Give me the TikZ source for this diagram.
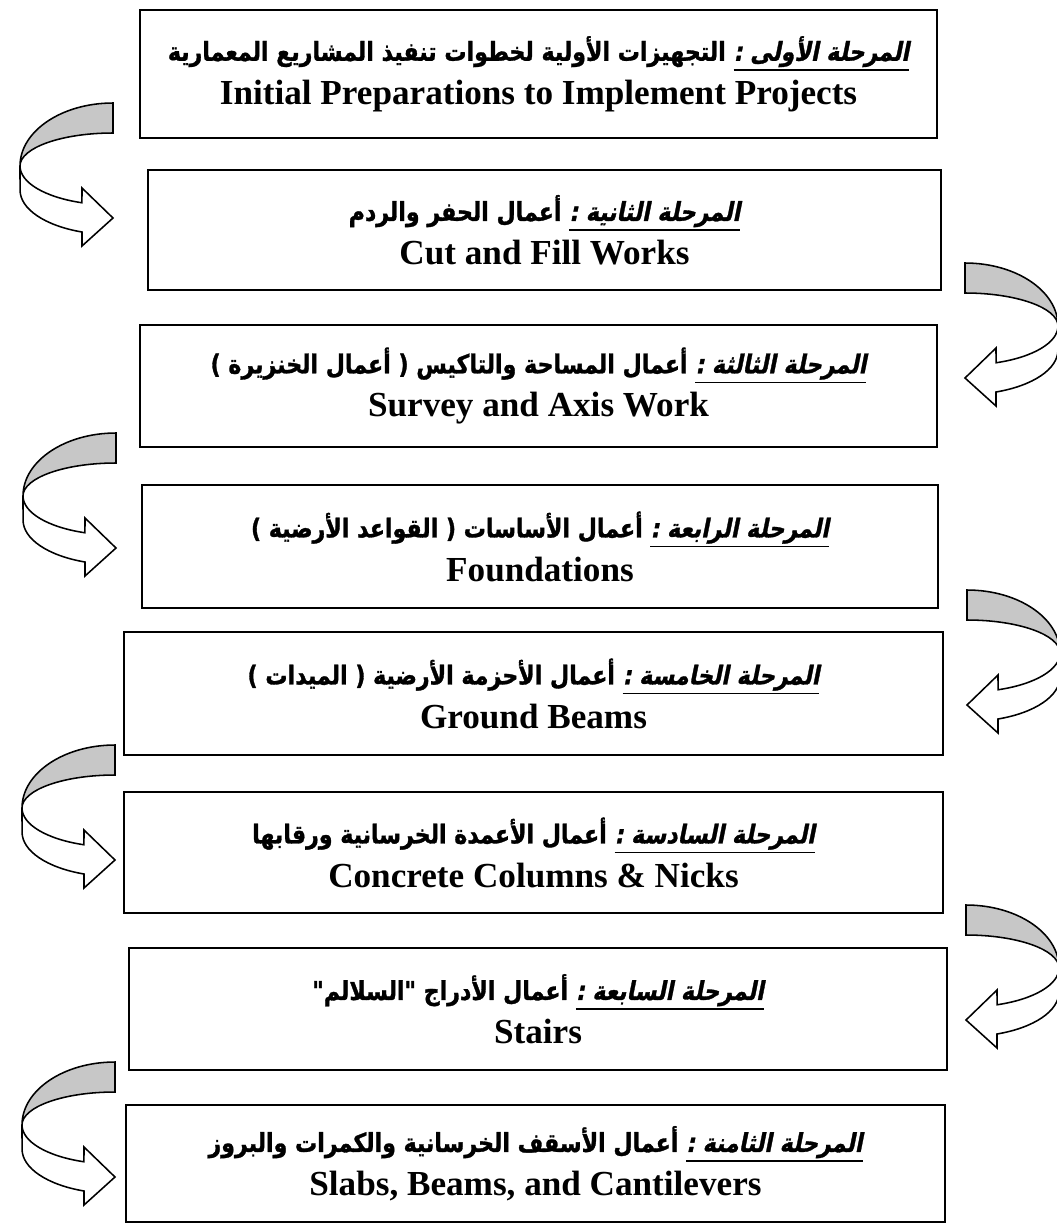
\documentclass[tikz,border=0pt]{standalone}
\usepackage{fontspec}
\setmainfont{Liberation Serif}
\newfontfamily\arabicfont[Script=Arabic,FakeStretch=0.85,FakeBold=1.2]{DejaVu Sans}
\newfontfamily\arabicslant[Script=Arabic,FakeStretch=0.85,FakeSlant=0.2,FakeBold=1.2]{DejaVu Sans}
\TeXXeTstate=1
\usetikzlibrary{positioning}
\tikzset{
  % stage box
  stage/.style={
    draw,
    line width=1.2pt,
    fill=white,
    inner sep=0pt,
    align=center,
    font=\fontsize{25}{31}\selectfont\bfseries
  },
  % bent arrow: gray back band on top, white front band with head
  turnarrow/.pic={
    \filldraw[line width=1.1pt, fill=black!22]
      (0,0) arc[start angle=270, end angle=180, x radius=93, y radius=63]
      arc[start angle=180, end angle=270, x radius=93, y radius=33]
      -- cycle;
    \filldraw[line width=1.1pt, fill=white]
      (-93,63) arc[start angle=180, end angle=109.5, x radius=93, y radius=39]
      -- (-31,85) -- (0,115) -- (-31,143) -- (-31,129)
      arc[start angle=109.5, end angle=180, x radius=93, y radius=44.5]
      -- cycle;
  },
}
% arabic line font and underlined stage name
\newcommand{\arline}{\arabicfont\fontsize{18.5}{22}\selectfont}
\newcommand{\stagename}[1]{%
  \setbox0\hbox{\arabicslant\beginR #1\endR}%
  \vtop{\copy0\kern1.5pt\hrule height 1.1pt}}

\begin{document}
\begin{tikzpicture}[x=0.025cm, y=-0.025cm]
  \useasboundingbox (0,0) rectangle (1057,1226);

  % stages
  \node[stage, minimum width=19.93cm, minimum height=3.2cm] (s1) at (538.5,74)
    {{\arline\beginR\stagename{المرحلة الأولى :} التجهيزات الأولية لخطوات تنفيذ المشاريع المعمارية\endR}\\
     Initial Preparations to Implement Projects};
  \node[stage, minimum width=19.83cm, minimum height=3.0cm] (s2) at (544.5,230)
    {{\arline\beginR\stagename{المرحلة الثانية :} أعمال الحفر والردم\endR}\\
     Cut and Fill Works};
  \node[stage, minimum width=19.93cm, minimum height=3.05cm] (s3) at (538.5,386)
    {{\arline\beginR\stagename{المرحلة الثالثة :} أعمال المساحة والتاكيس ( أعمال الخنزيرة )\endR}\\
     Survey and Axis Work};
  \node[stage, minimum width=19.9cm, minimum height=3.08cm] (s4) at (540,546.5)
    {{\arline\beginR\stagename{المرحلة الرابعة :} أعمال الأساسات ( القواعد الأرضية )\endR}\\
     Foundations};
  \node[stage, minimum width=20.48cm, minimum height=3.08cm] (s5) at (533.5,693.5)
    {{\arline\beginR\stagename{المرحلة الخامسة :} أعمال الأحزمة الأرضية ( الميدات )\endR}\\
     Ground Beams};
  \node[stage, minimum width=20.48cm, minimum height=3.03cm] (s6) at (533.5,852.5)
    {{\arline\beginR\stagename{المرحلة السادسة :} أعمال الأعمدة الخرسانية ورقابها\endR}\\
     Concrete Columns \& Nicks};
  \node[stage, minimum width=20.45cm, minimum height=3.05cm] (s7) at (538,1009)
    {{\arline\beginR\stagename{المرحلة السابعة :} أعمال الأدراج "السلالم"\endR}\\
     Stairs};
  \node[stage, minimum width=20.48cm, minimum height=2.93cm] (s8) at (535.5,1163.5)
    {{\arline\beginR\stagename{المرحلة الثامنة :} أعمال الأسقف الخرسانية والكمرات والبروز\endR}\\
     Slabs, Beams, and Cantilevers};

  % arrows on the left
  \pic at (113,103) {turnarrow};
  \pic at (116,433) {turnarrow};
  \pic at (115,745) {turnarrow};
  \pic at (115,1062) {turnarrow};
  % arrows on the right
  \pic[xscale=-1] at (965,263) {turnarrow};
  \pic[xscale=-1] at (967,590) {turnarrow};
  \pic[xscale=-1] at (966,905) {turnarrow};
\end{tikzpicture}
\end{document}
